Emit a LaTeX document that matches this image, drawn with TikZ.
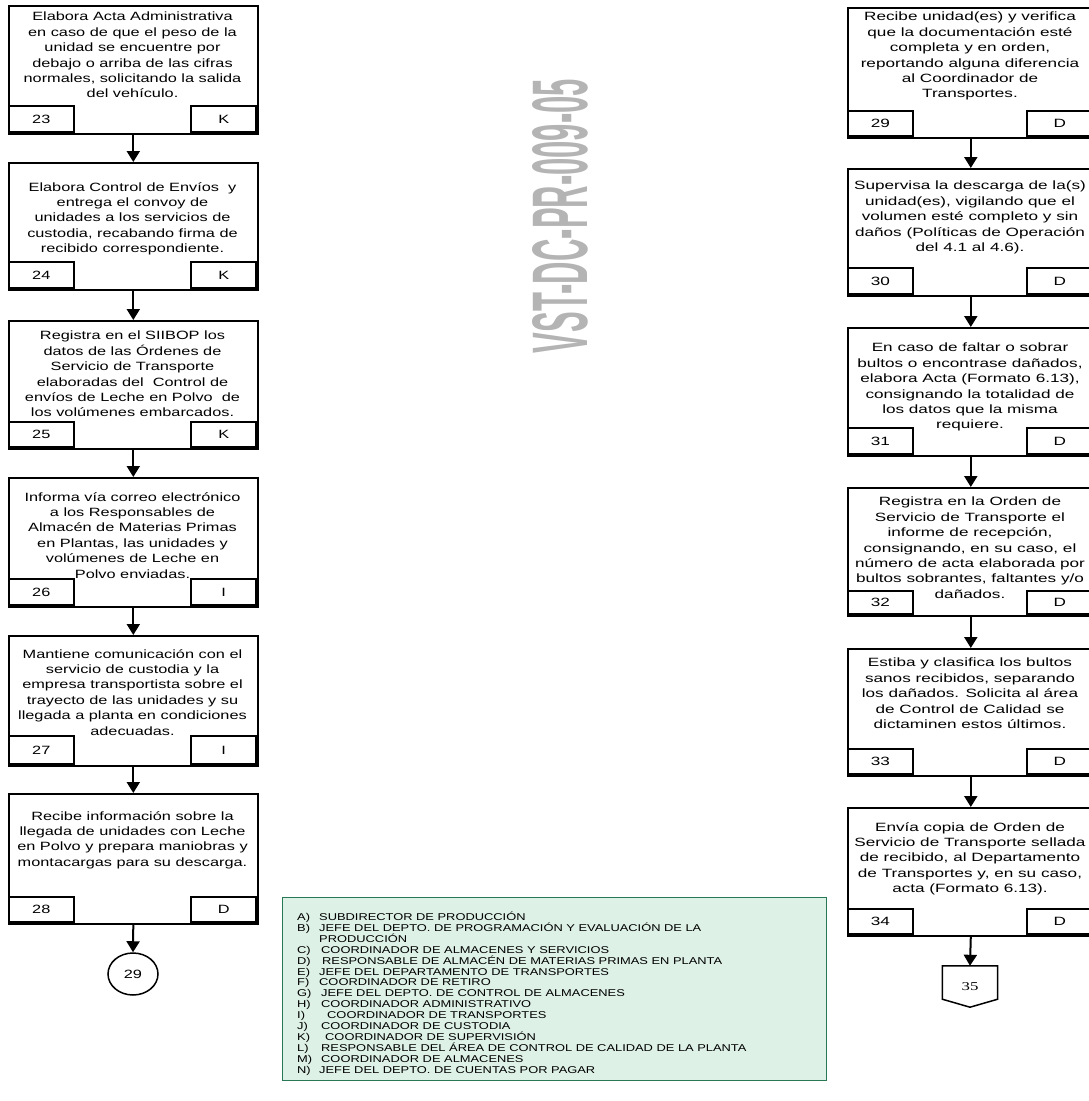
\documentclass[tikz,border=0pt]{standalone}
\usepackage{fontspec}
\setmainfont{Liberation Sans}
\newfontfamily\leftcolfont{Liberation Sans}[FakeStretch=1.36]
\newfontfamily\rightcolfont{Liberation Sans}[FakeStretch=1.43]
\newfontfamily\legendfont{Liberation Sans}[FakeStretch=1.3]
\newfontfamily\connfont{Liberation Serif}[FakeStretch=1.4]
\usetikzlibrary{arrows.meta,shapes.geometric}

\definecolor{legendfill}{RGB}{221,241,230}
\definecolor{legenddraw}{RGB}{40,120,85}
\definecolor{markgray}{RGB}{180,180,180}

\tikzset{
  procbox/.style={draw, line width=1.6pt, inner sep=0pt, rectangle},
  proctext/.style={align=center, inner sep=0pt, font=\colfont\fontsize{12}{15.4}\selectfont},
  cellbox/.style={draw, line width=1.6pt, inner sep=0pt, minimum width=65pt, font=\colfont\fontsize{12}{14}\selectfont},
  flowarrow/.style={line width=2pt, -{Triangle[width=13pt,length=11pt]}},
  legendline/.style={inner sep=0pt, anchor=base west, font=\legendfont\fontsize{9.9}{10.9}\selectfont},
}

% process box: name, top, text top, number-row top, bottom, text, number, responsible
\newcommand{\flowbox}[8]{%
  \node[procbox, anchor=north west, minimum width={\colxr-\colxl}, minimum height={#5-#2}] (#1) at (\colxl,#2) {};
  \node[proctext, anchor=north] (#1t) at ({(\colxl+\colxr)/2},#3) {#6};
  \node[cellbox, anchor=south west, minimum height={#5-#4}] (#1n) at (\colxl,#5) {#7};
  \node[cellbox, anchor=south east, minimum height={#5-#4}] (#1r) at (\colxr,#5) {#8};
}

\begin{document}
\begin{tikzpicture}[x=1pt,y=-1pt]
\useasboundingbox (0,0) rectangle (1089,1101);
\clip (0,0) rectangle (1089,1101);

% document code
\node[text=markgray, rotate=90, inner sep=0pt] (mark) at (560,216)
  {\resizebox{274pt}{55pt}{\bfseries VST-DC-PR-009-05}};

% left column
\def\colxl{8}\def\colxr{257}\let\colfont\leftcolfont
\flowbox{s23}{5}{12}{107}{133}{Elabora Acta Administrativa\\en caso de que el peso de la\\unidad se encuentre por\\debajo o arriba de las cifras\\normales, solicitando la salida\\del vehículo.}{23}{K}
\flowbox{s24}{162}{182}{263}{289}{Elabora Control de Envíos~ y\\entrega el convoy de\\unidades a los servicios de\\custodia, recabando firma de\\recibido correspondiente.}{24}{K}
\flowbox{s25}{320}{331}{423}{448}{Registra en el SIIBOP los\\datos de las Órdenes de\\Servicio de Transporte\\elaboradas del~ Control de\\envíos de Leche en Polvo~ de\\los volúmenes embarcados.}{25}{K}
\flowbox{s26}{477}{492}{580}{606}{Informa vía correo electrónico\\a los Responsables de\\Almacén de Materias Primas\\en Plantas, las unidades y\\volúmenes de Leche en\\Polvo enviadas.}{26}{I}
\flowbox{s27}{635}{649}{737}{765}{Mantiene comunicación con el\\servicio de custodia y la\\empresa transportista sobre el\\trayecto de las unidades y su\\llegada a planta en condiciones\\adecuadas.}{27}{I}
\flowbox{s28}{793}{811}{898}{923}{Recibe información sobre la\\llegada de unidades con Leche\\en Polvo y prepara maniobras y\\montacargas para su descarga.}{28}{D}

\node[draw, ellipse, line width=1.5pt, minimum width=50pt, minimum height=42pt, inner sep=0pt,
      font=\leftcolfont\fontsize{12}{14}\selectfont] (c29) at (133,974) {29};

% right column
\def\colxl{847}\def\colxr{1093}\let\colfont\rightcolfont
\flowbox{s29}{7}{12}{112}{137}{Recibe unidad(es) y verifica\\que la documentación esté\\completa y en orden,\\reportando alguna diferencia\\al Coordinador de\\Transportes.}{29}{D}
\flowbox{s30}{168}{181}{269}{295}{Supervisa la descarga de la(s)\\unidad(es), vigilando que el\\volumen esté completo y sin\\daños (Políticas de Operación\\del 4.1 al 4.6).}{30}{D}
\flowbox{s31}{327}{343}{429}{455}{En caso de faltar o sobrar\\bultos o encontrase dañados,\\elabora Acta (Formato 6.13),\\consignando la totalidad de\\los datos que la misma\\requiere.}{31}{D}
\flowbox{s32}{487}{497}{592}{615}{Registra en la Orden de\\Servicio de Transporte el\\informe de recepción,\\consignando, en su caso, el\\número de acta elaborada por\\bultos sobrantes, faltantes y/o\\dañados.}{32}{D}
\flowbox{s33}{648}{658}{750}{775}{Estiba y clasifica los bultos\\sanos recibidos, separando\\los dañados. Solicita al área\\de Control de Calidad se\\dictaminen estos últimos.}{33}{D}
\flowbox{s34}{807}{822}{910}{935}{Envía copia de Orden de\\Servicio de Transporte sellada\\de recibido, al Departamento\\de Transportes y, en su caso,\\acta (Formato 6.13).}{34}{D}

% off-page connector
\node[minimum width=55pt, minimum height=41pt, inner sep=0pt,
      font=\connfont\fontsize{12}{14}\selectfont] (off35) at (970,986.5) {35};
\draw[line width=1.5pt, line join=miter] (off35.north west) -- (off35.north east)
  -- ([yshift=8pt]off35.south east) -- (off35.south) -- ([yshift=8pt]off35.south west) -- cycle;

% connectors
\draw[flowarrow] (s23.south) -- (s24.north);
\draw[flowarrow] (s24.south) -- (s25.north);
\draw[flowarrow] (s25.south) -- (s26.north);
\draw[flowarrow] (s26.south) -- (s27.north);
\draw[flowarrow] (s27.south) -- (s28.north);
\draw[flowarrow] (s28.south) -- (c29.north);
\draw[flowarrow] (s29.south) -- (s30.north);
\draw[flowarrow] (s30.south) -- (s31.north);
\draw[flowarrow] (s31.south) -- (s32.north);
\draw[flowarrow] (s32.south) -- (s33.north);
\draw[flowarrow] (s33.south) -- (s34.north);
\draw[flowarrow] (s34.south) -- (off35.north);

% legend of responsible roles
\node[draw=legenddraw, fill=legendfill, line width=1.2pt, anchor=north west, inner sep=0pt,
      minimum width=544pt, minimum height=183pt] (legend) at (282,897) {};
\foreach \lab/\txt/\dx [count=\i] in {
  A)/SUBDIRECTOR DE PRODUCCIÓN/0,
  B)/JEFE DEL DEPTO. DE PROGRAMACIÓN Y EVALUACIÓN DE LA/0,
  /PRODUCCIÓN/0,
  C)/COORDINADOR DE ALMACENES Y SERVICIOS/2,
  D)/RESPONSABLE DE ALMACÉN DE MATERIAS PRIMAS EN PLANTA/3,
  E)/JEFE DEL DEPARTAMENTO DE TRANSPORTES/0,
  F)/COORDINADOR DE RETIRO/0,
  G)/JEFE DEL DEPTO. DE CONTROL DE ALMACENES/2,
  H)/COORDINADOR ADMINISTRATIVO/2,
  I)/COORDINADOR DE TRANSPORTES/8,
  J)/COORDINADOR DE CUSTODIA/2,
  K)/COORDINADOR DE SUPERVISIÓN/6,
  L)/RESPONSABLE DEL ÁREA DE CONTROL DE CALIDAD DE LA PLANTA/2,
  M)/COORDINADOR DE ALMACENES/2,
  N)/JEFE DEL DEPTO. DE CUENTAS POR PAGAR/0}
{
  \node[legendline] (lgl\i) at (297,{920.5+10.9*(\i-1)}) {\lab};
  \node[legendline] (lgt\i) at ({319+\dx},{920.5+10.9*(\i-1)}) {\txt};
}
\end{tikzpicture}
\end{document}
